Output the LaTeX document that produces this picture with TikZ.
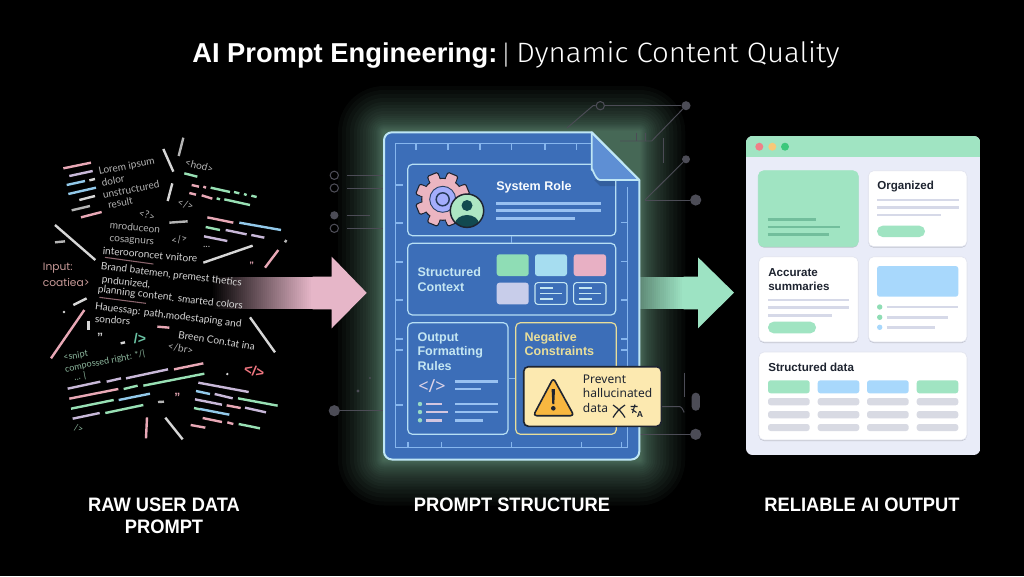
\documentclass[tikz,border=0pt]{standalone}
\usepackage{fontspec}
\usetikzlibrary{fit,calc}
\setmainfont{Liberation Sans}
\newfontfamily\nt{Noto Sans}
\newfontfamily\pop{Poppins}
\newfontfamily\lat{Lato}
\newfontfamily\fira{Fira Sans Light}
\definecolor{sPink}{HTML}{E8A8B6}
\definecolor{sLil}{HTML}{C8B8D8}
\definecolor{sBlue}{HTML}{92C9EA}
\definecolor{sGreen}{HTML}{98E0B4}
\definecolor{sPale}{HTML}{D6D6D6}
\definecolor{sGrey}{HTML}{B4B4B4}
\definecolor{sRose}{HTML}{C89A98}
\definecolor{cGrey}{HTML}{4C4C56}
\definecolor{docB}{HTML}{3C6EB8}
\definecolor{docL}{HTML}{BFE6F5}
\definecolor{docI}{HTML}{86B6EE}
\definecolor{docT}{HTML}{C4E6F2}
\definecolor{mint}{HTML}{A0E4C2}
\definecolor{ink}{HTML}{1E2430}
\definecolor{bar}{HTML}{D6D9E8}
\definecolor{cell}{HTML}{D8DAE3}
\definecolor{arrowP}{HTML}{E6B6C8}
\definecolor{arrowG}{HTML}{9DE3C3}
\definecolor{tileG}{HTML}{8FDDB5}
\definecolor{tileB}{HTML}{A6DDF0}
\definecolor{tileP}{HTML}{E8B0C4}
\definecolor{tileL}{HTML}{C8CDEA}
\definecolor{skyC}{HTML}{A8D8FC}
\definecolor{winBg}{HTML}{E9ECF8}
\definecolor{winR}{HTML}{F08088}
\definecolor{winY}{HTML}{F8C878}
\definecolor{winG}{HTML}{3CC87C}
\definecolor{warnF}{HTML}{FCE9B0}
\definecolor{warnT}{HTML}{F8B740}
\definecolor{negC}{HTML}{E8DE9A}
\definecolor{leaf}{HTML}{72BE9C}
\definecolor{foldC}{HTML}{5E8FD4}
\tikzset{
  seg/.style={line width=1.8pt,line cap=butt},
  tx/.style={font=\lat\fontsize{7.6pt}{8pt}\selectfont,text=sGrey,inner sep=0pt},
  txw/.style={font=\lat\fontsize{7.6pt}{8pt}\selectfont,text=sPale,inner sep=0pt},
  txg/.style={font=\lat\fontsize{6.8pt}{8pt}\selectfont,text=sGreen!60!gray,inner sep=0pt},
  capt/.style={font=\bfseries\fontsize{14.6pt}{16pt}\selectfont,text=white,inner sep=0pt,xscale=.94},
  wire/.style={draw=cGrey,line width=.7pt},
  hollow/.style={circle,draw=cGrey,line width=.8pt,inner sep=0pt,minimum size=6.2pt},
  solid dot/.style={circle,fill=cGrey,inner sep=0pt},
  inbox/.style={draw=docL!85!docI,line width=.9pt,rounded corners=3.5pt,inner sep=0pt},
  docline/.style={draw=docI,line width=.9pt},
  rolebar/.style={draw=docI!85!white,line width=2.1pt},
  dt/.style={font=\bfseries\fontsize{9.4pt}{10.9pt}\selectfont,text=docT,inner sep=0pt,anchor=west,align=left},
  card/.style={fill=white,draw=bar!70!white,line width=.5pt,rounded corners=4pt,inner sep=0pt},
  ct/.style={font=\bfseries\fontsize{8.7pt}{10.5pt}\selectfont,text=ink,inner sep=0pt,anchor=west,align=left},
  cbar/.style={draw=bar,line width=2.2pt},
  tile/.style={rounded corners=2pt,inner sep=0pt},
}
% named box spanning two pixel corners
\newcommand\bx[6]{\path (#3,#4) coordinate (#1-a) (#5,#6) coordinate (#1-b);
  \node[#2,fit=(#1-a)(#1-b)] (#1) {};}
\newcommand\sg[3]{\draw[seg,#1] (#2) -- (#3);}
\begin{document}
\begin{tikzpicture}[x=.75pt,y=-.75pt]
\useasboundingbox (0,0) rectangle (1024,576);
\fill[black] (0,0) rectangle (1024,576);

% glow
\foreach \r in {46,42,38,34,30,27,24,21,18,16,14,12,10,8,7,6,5,4,3,2,1}{
  \fill[mint,opacity=.03,rounded corners=\r*.75pt] (384-\r,132-\r) rectangle (639.3+\r,459.5+\r);
}

% title
\node[font=\bfseries\fontsize{20.5pt}{24pt}\selectfont,text=white,inner sep=0pt,anchor=west] (titleA) at (192,55) {AI Prompt Engineering:};
\node[font=\fira\fontsize{20pt}{24pt}\selectfont,text=white!85!black,inner sep=0pt] (titleBar) at (506,55) {|};
\node[font=\fira\fontsize{21pt}{24pt}\selectfont,text=white,inner sep=0pt,anchor=west,xscale=1.05] (titleB) at (516,55) {Dynamic Content Quality};

% circuit traces, upper right
\node[hollow] (c1) at (600.3,105.7) {};
\node[solid dot,minimum size=6.8pt] (c2) at (686,105.7) {};
\node[solid dot,minimum size=6pt] (c3) at (686,159.3) {};
\node[solid dot,minimum size=8.4pt] (c4) at (695.7,200) {};
\coordinate (c1a) at (567,128);
\coordinate (c2a) at (651.7,141);
\coordinate (c2b) at (620,141);
\coordinate (c3a) at (645,200);
\draw[wire] (c1a) -- (593,105.7) -- (c1);
\draw[wire] (c1) -- (c2);
\draw[wire] (c2) -- (c2a) -- (c2b);
\draw[wire] (c3) -- (c3a);
\draw[wire] (c3a) -- (c4);
\draw[wire] (636,132.7) -- (636,141) (645,132.7) -- (645,141);
\draw[wire] (663,138.3) -- (663,162.7);
% circuit traces, left
\node[hollow] (l1) at (334.3,175.3) {};
\node[hollow] (l2) at (334.3,188) {};
\node[solid dot,minimum size=6.2pt] (l3) at (334.3,215.3) {};
\node[hollow] (l4) at (334.3,228.3) {};
\node[solid dot,minimum size=8.4pt] (l5) at (334.3,410.7) {};
\coordinate (l1e) at (384,175.3);
\coordinate (l2e) at (384,188);
\coordinate (l3e) at (370,215.3);
\coordinate (l4e) at (384,228.3);
\coordinate (l5e) at (384,410.7);
\draw[wire,line width=1.1pt,shorten <=6pt] (l1) -- (l1e);
\draw[wire,shorten <=6pt] (l2) -- (l2e);
\draw[wire,line width=1.1pt,shorten <=6pt] (l3) -- (l3e);
\draw[wire,shorten <=6pt] (l4) -- (l4e);
\draw[wire] (l5) -- (l5e);
\fill[cGrey] (358,391) circle (1.6) (370,378) circle (1.2);
% circuit traces, lower right
\node[solid dot,rounded corners=3pt,rectangle,minimum width=6.2pt,minimum height=13.5pt] (r1) at (695.8,401.7) {};
\node[solid dot,minimum size=8.4pt] (r2) at (695.7,434.3) {};
\coordinate (r2a) at (640,434.3);
\draw[wire] (r2a) -- (r2);
\draw[wire] (684.3,372.7) -- (684.3,396.7);
\draw[wire] (661.7,406.7) -- (680,406.7) to[out=0,in=-90] (684.3,411.7);

% arrows
\foreach \i in {0,...,49}{
  \pgfmathtruncatemacro\mix{2*\i+2}
  \fill[arrowP!\mix!black] (213+2*\i,276.7) rectangle (215.5+2*\i,309.3);
}
\fill[arrowP] (312.5,276.7) -- (331.7,276.7) -- (331.7,256.7) -- (366.7,292.8) -- (331.7,328.3) -- (331.7,309.3) -- (312.5,309.3) -- cycle;
\foreach \i in {0,...,22}{
  \pgfmathtruncatemacro\mix{60+\i*40/22}
  \fill[arrowG!\mix!black] (638+2*\i,276.7) rectangle (640.5+2*\i,309.3);
}
\fill[arrowG] (683.5,276.7) -- (698,276.7) -- (698,257.3) -- (734,292.6) -- (698,328.3) -- (698,309.3) -- (683.5,309.3) -- cycle;

% ---- scattered raw text, upper part (coordinates in 3x crop units)
\begin{scope}[shift={(20,120)},x=.25pt,y=-.25pt]
\sg{sPink}{130,145}{213,128}
\sg{sLil}{148,168}{218,153}
\sg{sBlue}{140,195}{195,183}
\sg{sPale}{208,181}{225,177}
\sg{sBlue}{145,222}{228,203}
\sg{sPale}{178,240}{225,228}
\sg{sGrey}{155,271}{210,258}
\sg{sPink}{183,292}{245,276}
\sg{sPale}{430,87}{460,155}
\sg{sGrey}{490,53}{476,108}
\sg{sPale}{457,190}{443,243}
\sg{sGreen}{493,160}{532,170}
\sg{sPink}{515,195}{537,200}
\sg{sPink}{550,200}{558,203}
\sg{sGreen}{572,203}{630,216}
\sg{sGreen}{642,216}{658,220}
\sg{sGreen}{672,222}{680,225}
\sg{sGreen}{694,227}{710,231}
\sg{sPink}{508,219}{528,224}
\sg{sPink}{545,226}{577,236}
\sg{sGreen}{590,235}{600,238}
\sg{sGreen}{613,238}{690,255}
\sg{sGrey}{448,308}{503,304}
\sg{sPink}{562,292}{640,308}
\sg{sBlue}{658,308}{783,330}
\sg{sGreen}{557,321}{600,330}
\sg{sLil}{617,330}{680,343}
\sg{sLil}{694,345}{733,353}
\sg{sLil}{552,349}{622,363}
\sg{sPale}{550,428}{698,377}
\sg{sPale}{105,315}{226,420}
\sg{sGrey}{105,367}{135,364}
\sg{sPink}{735,443}{775,390}
\sg{sGrey}{795,367}{799,360}
\sg{sPale}{160,555}{200,535}
\draw[sPink!60!black,line width=.8pt] (255,412) -- (400,432);
\draw[sPink!60!black,line width=.8pt] (238,532) -- (378,550);
\node[tx,rotate=11] (t1) at (320,140) {Lorem ipsum};
\node[tx,rotate=11] (t2) at (279,181) {dolor};
\node[tx,rotate=11] (t3) at (333,208) {unstructured};
\node[tx,rotate=11] (t4) at (301,248) {result};
\node[tx,rotate=-15] (t5) at (381,285) {<?>};
\node[tx,rotate=-15] (t6) at (538,137) {<hod>};
\node[tx,rotate=-15] (t7) at (497,254) {</>};
\node[tx,rotate=10] (t8) at (478,358) {</>};
\node[tx,rotate=-5] (t9) at (345,322) {mroduceon};
\node[tx,rotate=-4] (t10) at (335,364) {cosagnurs};
\node[txw,rotate=-5] (t11) at (390,404) {interooroncet vnitore};
\node[txw,rotate=-6.8] (t12) at (454,465) {Brand batemen, premest thetics};
\node[txw,rotate=-6] (t13) at (318,488) {pndunized,};
\node[txw,rotate=-6.8] (t14) at (451,534) {planning content. smarted colors};
\node[font=\pop\fontsize{8pt}{10pt}\selectfont,text=sRose,inner sep=0pt,anchor=west] (t15) at (68,443) {Input:};
\node[font=\pop\fontsize{8pt}{10pt}\selectfont,text=sRose,inner sep=0pt,anchor=west] (t16) at (68,487) {coatiea>};
\node[tx] (t17) at (560,380) {...};
\node[font=\bfseries\fontsize{7pt}{8pt}\selectfont,text=sPink,inner sep=0pt] (t18) at (695,436) {"};
\end{scope}
% ---- scattered raw text, lower part
\begin{scope}[shift={(20,300)},x=.25pt,y=-.25pt]
\sg{sPink}{193,30}{93,175}
\sg{sPale}{690,52}{765,157}
\sg{sPale}{205,62}{205,90}
\sg{sPink}{412,80}{448,83}
\sg{sPale}{302,130}{315,127}
\sg{sLil}{143,266}{241,245}
\sg{sLil}{260,245}{303,235}
\sg{sLil}{318,235}{444,208}
\sg{sPink}{462,208}{550,190}
\sg{sPink}{148,296}{295,267}
\sg{sGreen}{311,267}{353,257}
\sg{sGreen}{370,257}{553,221}
\sg{sGreen}{153,326}{281,300}
\sg{sBlue}{296,300}{390,281}
\sg{sLil}{158,356}{239,339}
\sg{sGreen}{256,339}{370,315}
\sg{sGrey}{414,306}{432,305}
\sg{sLil}{535,248}{686,276}
\sg{sBlue}{528,273}{570,282}
\sg{sLil}{584,282}{638,295}
\sg{sGreen}{654,295}{773,317}
\sg{sLil}{525,298}{606,314}
\sg{sPink}{620,316}{662,324}
\sg{sLil}{675,323}{738,337}
\sg{sGreen}{522,324}{540,328}
\sg{sBlue}{540,327}{628,344}
\sg{sPink}{548,354}{606,366}
\sg{sPink}{622,367}{640,372}
\sg{sGreen}{656,372}{720,385}
\sg{sPink}{512,375}{556,383}
\sg{sPink}{381,352}{378,415}
\sg{sPale}{436,353}{488,418}
\node[circle,fill=sPale,inner sep=0pt,minimum size=2pt] (d1) at (132,36) {};
\node[circle,fill=sPale,inner sep=0pt,minimum size=2pt] (d2) at (622,222) {};
\node[txw,rotate=-7] (u1) at (445,47) {Hauessap: path,modestaping and};
\node[txw,rotate=-4] (u2) at (278,60) {sondors};
\node[txw,rotate=-9] (u3) at (590,122) {Breen Con.tat ina};
\node[tx,rotate=-10] (u4) at (482,146) {</br>};
\node[txg,rotate=10] (u5) at (167,168) {<snipt};
\node[txg,rotate=11] (u6) at (255,185) {compossed right: */|};
\node[txg,rotate=11] (u7) at (180,230) {... |};
\node[txg,rotate=-10] (u8) at (176,385) {/>};
\node[font=\bfseries\fontsize{10.5pt}{12pt}\selectfont,text=sGreen!70!teal,inner sep=0pt] (u9) at (360,115) {/>};
\node[font=\bfseries\fontsize{9pt}{12pt}\selectfont,text=sPale,inner sep=0pt] (u10) at (240,112) {"};
\node[font=\bfseries\fontsize{9pt}{12pt}\selectfont,text=sPink,inner sep=0pt] (u11) at (472,292) {"};
\node[font=\bfseries\fontsize{10.5pt}{12pt}\selectfont,text=sPink!70!red,inner sep=0pt,rotate=-12] (u12) at (703,213) {</>};
\end{scope}

% ---- prompt document
\fill[docB] (384,180) [rounded corners=6pt] -- (384,132.3) [sharp corners] -- (591.7,132.3) -- (639.3,180) [rounded corners=6pt] -- (639.3,459.5) -- (384,459.5) -- cycle;
\draw[docI,line width=.9pt] (591,143.3) -- (395.7,143.3) -- (395.7,447.7) -- (627.7,447.7) -- (627.7,186.7);
\foreach \x in {416,448,480,511.7,545,576.7}{\draw[docline] (\x,143.3) -- (\x,150);}
\foreach \y in {185,223,262,300,339,350,405}{\draw[docline] (395.7,\y) -- (403,\y);}
\foreach \y in {222.7,261.7,300,339,350}{\draw[docline] (627.7,\y) -- (621,\y);}
\foreach \x in {408,441.7,511.7,581.7,621.7}{\draw[docline] (\x,447.7) -- (\x,441.7);}
\bx{role}{inbox}{407.7}{164.3}{615.7}{235.7}
\bx{ctx}{inbox}{407.7}{243.3}{615.7}{315}
\bx{fmt}{inbox}{407.7}{322.7}{508}{434.3}
\bx{neg}{inbox,draw=negC}{515.7}{322.7}{616.3}{434.3}
\draw[docline] (role.south) -- (ctx.north);
\draw[docline] (fmt.east) -- (neg.west);
% fold
\fill[docB!75!black,opacity=.55] (594,180) -- (600,186) -- (615,186) -- (615,176) -- cycle;
\draw[fill=foldC,draw=docL,line width=1.3pt,line join=round] (591.7,132.3) -- (639.3,180) -- (600,180) to[out=180,in=90] (591.7,170) -- cycle;
\draw[docL,line width=1.5pt,line join=round] (384,180) [rounded corners=6pt] -- (384,132.3) [sharp corners] -- (591.7,132.3) -- (639.3,180) [rounded corners=6pt] -- (639.3,459.5) -- (384,459.5) -- cycle;

% gear
\begin{scope}[shift={(442.7,199.3)}]
\foreach \a in {0,45,...,315}{
  \begin{scope}[rotate=\a+22.5]
    \draw[fill=sPink!85!white,draw=ink,line width=.8pt,rounded corners=1pt] (-5.5,-27) rectangle (5.5,-16);
  \end{scope}
}
\draw[fill=sPink!85!white,draw=ink,line width=.8pt] (0,0) circle (21);
\foreach \a in {0,45,...,315}{
  \begin{scope}[rotate=\a+22.5]
    \fill[sPink!85!white] (-4.9,-24) rectangle (4.9,-16);
  \end{scope}
}
\draw[fill=docI!40!blue!45!white,draw=ink!60!docB,line width=.7pt] (0,0) circle (13);
\draw[draw=ink!70!docB,line width=1.1pt] (0,0) circle (6.5);
\end{scope}
% person badge
\begin{scope}
\clip (467,210.7) circle (16.7);
\fill[sGreen!80!white] (467,210.7) circle (16.7);
\fill[ink!60!teal] (467,205.5) circle (5.5);
\fill[ink!60!teal] (467,224) ellipse (12 and 9);
\end{scope}
\draw[ink,line width=1.1pt] (467,210.7) circle (16.7);

\node[dt,text=white!90!docT] (role-t) at (496,187.3) {System Role};
\draw[rolebar] (496,203.3) -- (600.7,203.3);
\draw[rolebar] (496,210.7) -- (600.7,210.7);
\draw[rolebar] (496,218.3) -- (574.7,218.3);

\node[dt] (ctx-t) at (417.3,279.5) {Structured\\Context};
\bx{k1}{tile,fill=tileG}{496.7}{254.3}{528.7}{276}
\bx{k2}{tile,fill=tileB}{535}{254.3}{567}{276}
\bx{k3}{tile,fill=tileP}{573.7}{254.3}{606}{276}
\bx{k4}{tile,fill=tileL}{496.7}{282.7}{528.7}{304.3}
\bx{k5}{tile,draw=docT,line width=.8pt}{535}{282.7}{567}{304.3}
\bx{k6}{tile,draw=docT,line width=.8pt}{573.7}{282.7}{606}{304.3}
\foreach \dx in {0,38.7}{
  \draw[docT,line width=.8pt] (540+\dx,288) -- (553+\dx,288) (540+\dx,293.5) -- (562+\dx,293.5) (540+\dx,299) -- (553+\dx,299);
}

\node[dt] (fmt-t) at (417.3,351.3) {Output\\Formatting\\Rules};
\node[font=\nt\fontsize{13.5pt}{14pt}\selectfont,text=sLil!60!white,inner sep=0pt] (fmt-i) at (432,386.5) {</>};
\draw[rolebar] (455,381.7) -- (498,381.7);
\draw[rolebar] (455,389) -- (481,389);
\foreach \y/\xa/\xb in {404/426/442,412/426/448,420.3/426/441.7}{
  \fill[sGreen!70!sBlue] (420,\y) circle (2.2);
  \draw[sLil!80!white,line width=2.1pt] (\xa,\y) -- (\xb,\y);
}
\draw[rolebar] (455,404) -- (498,404);
\draw[rolebar] (455,412) -- (498,412);
\draw[rolebar] (455,420.3) -- (482.7,420.3);
\node[dt,text=negC] (neg-t) at (524.3,344) {Negative\\Constraints};

% warning callout
\bx{warn}{fill=warnF,draw=ink,line width=1.2pt,rounded corners=3.5pt,inner sep=0pt}{523.7}{366.7}{661.3}{426.3}
\draw[fill=warnT,draw=ink,line width=1.2pt,rounded corners=2.5pt,line join=round] (553.3,378) -- (574,415.7) -- (533.3,415.7) -- cycle;
\fill[ink] (551.6,389) -- (555,389) -- (554.3,404) -- (552.3,404) -- cycle;
\fill[ink] (553.3,408.3) circle (2.3);
\node[font=\nt\fontsize{9pt}{10.9pt}\selectfont,text=ink,inner sep=0pt,align=left,anchor=north west] (warn-t) at (582.7,374.5) {Prevent\\hallucinated\\data};
\draw[ink,line width=.9pt] (613,405) to[bend left=12] (625,417.5) (625,405) to[bend right=12] (613,417.5);
\draw[ink,line width=.8pt] (630.5,406.5) -- (637.5,406.5) (635,404.5) -- (632.5,413) (631.5,409) -- (636.5,412.5);
\node[font=\bfseries\fontsize{6.5pt}{7pt}\selectfont,text=ink,inner sep=0pt] (warn-a) at (640,414.5) {A};

% ---- browser window
\begin{scope}
\clip[rounded corners=5pt] (746,136) rectangle (980.3,455);
\fill[winBg] (746,136) rectangle (980.3,455);
\fill[mint] (746,136) rectangle (980.3,157.3);
\end{scope}
\node[circle,fill=winR,inner sep=0pt,minimum size=6pt] (w1) at (759.3,146.7) {};
\node[circle,fill=winY,inner sep=0pt,minimum size=6pt] (w2) at (772.3,146.7) {};
\node[circle,fill=winG,inner sep=0pt,minimum size=6pt] (w3) at (785,146.7) {};
\foreach \a/\b/\c/\d in {758.7/171.5/858.3/247.7,868.3/171.5/967/247.7,758.7/257.5/858.3/343,868.3/257.5/967/343,758.7/353/967/441}{
  \fill[bar!85!black!90!white,rounded corners=4pt] (\a,\b) rectangle (\c,\d);
}
\bx{g0}{card,fill=mint,draw=mint}{758.3}{170.7}{858.3}{246.7}
\draw[leaf,line width=2.1pt] (767.7,219.7) -- (815.7,219.7) (767.7,227) -- (840,227) (767.7,234.7) -- (828.7,234.7);
\bx{g1}{card}{868.3}{170.7}{967}{246.7}
\node[ct] (g1-t) at (877,186.3) {Organized};
\draw[cbar] (877,200) -- (958.7,200) (877,207.3) -- (958.7,207.3) (877,215) -- (941.3,215);
\bx{g1p}{fill=mint,rounded corners=4.2pt,inner sep=0pt}{877}{225.7}{925}{237}
\bx{g2}{card}{758.7}{256.7}{858.3}{342}
\node[ct] (g2-t) at (768,279.3) {Accurate\\summaries};
\draw[cbar] (768,300) -- (849,300) (768,307.3) -- (849,307.3) (768,315.3) -- (832.3,315.3);
\bx{g2p}{fill=mint,rounded corners=4.2pt,inner sep=0pt}{768}{321.7}{816}{333.3}
\bx{g3}{card}{868.3}{256.7}{967}{342}
\bx{g3i}{tile,fill=skyC}{877}{266}{958.3}{296.7}
\draw[cbar] (886.7,307) -- (958.3,307) (886.7,317.3) -- (948,317.3) (886.7,327.3) -- (934.7,327.3);
\fill[tileG] (879.7,307) circle (2.7) (879.7,317.3) circle (2.7);
\fill[skyC] (879.7,327.3) circle (2.7);
\bx{g4}{card}{758.7}{352}{967}{440}
\node[ct] (g4-t) at (768,367.3) {Structured data};
\foreach \x/\xx/\cc in {768/809.7/mint,817.7/859.3/skyC,867/908.7/skyC,916.7/958.3/mint}{
  \fill[\cc,rounded corners=2pt] (\x,380.3) rectangle (\xx,393.3);
  \fill[cell,rounded corners=2pt] (\x,398) rectangle (\xx,405.3);
  \fill[cell,rounded corners=2pt] (\x,411) rectangle (\xx,418.3);
  \fill[cell,rounded corners=2pt] (\x,424) rectangle (\xx,431);
}

% captions
\node[capt] (cap1) at (164,505) {RAW USER DATA};
\node[capt] (cap2) at (164,527) {PROMPT};
\node[capt] (cap3) at (512,505) {PROMPT STRUCTURE};
\node[capt] (cap4) at (862,505) {RELIABLE AI OUTPUT};
\end{tikzpicture}
\end{document}
